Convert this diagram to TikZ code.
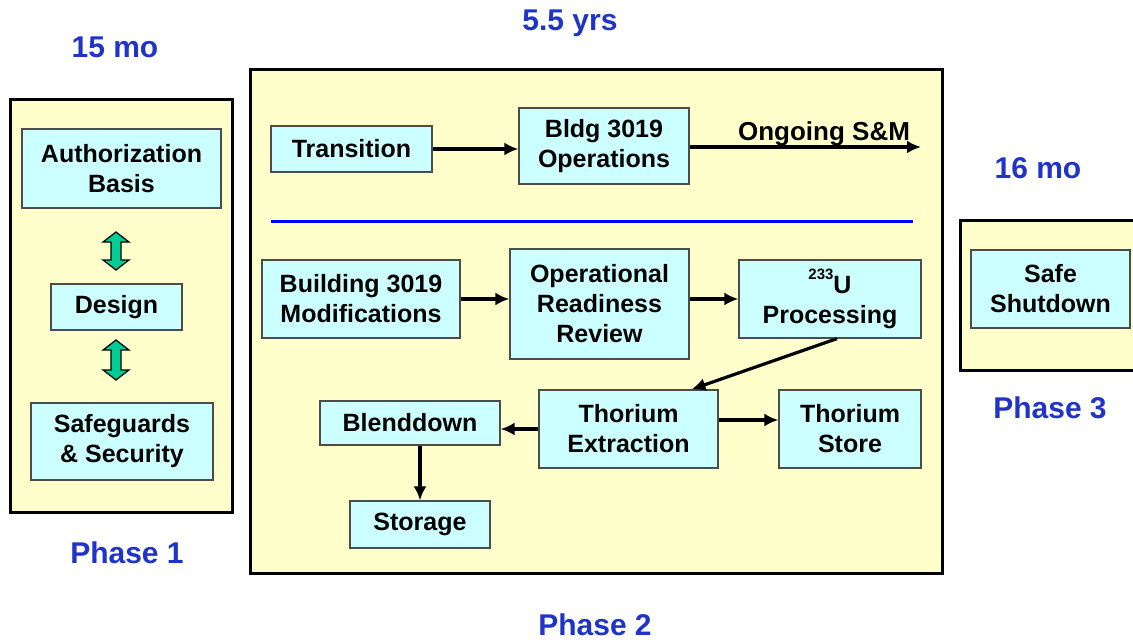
\documentclass[tikz,border=0pt]{standalone}
\usepackage{fontspec}
\setmainfont{Liberation Sans}
\usetikzlibrary{arrows.meta}
\definecolor{phasefill}{RGB}{255,255,204}
\definecolor{stepfill}{RGB}{204,255,255}
\definecolor{labelblue}{RGB}{32,52,200}
\definecolor{arrowgreen}{RGB}{0,204,150}
\tikzset{
  phasebox/.style={draw=black, line width=3pt, fill=phasefill},
  stepbox/.style={draw=black!70, line width=1.2pt, fill=stepfill, align=center,
    inner sep=0pt, font=\bfseries\fontsize{25}{30}\selectfont},
  phaselabel/.style={text=labelblue, font=\bfseries\fontsize{30}{34}\selectfont},
  flowarrow/.style={draw=black, line width=3.2pt, -{Latex[length=14pt,width=13pt]}},
  twoway/.style={draw=black, line width=1.2pt, fill=arrowgreen},
}
\newcommand{\isotope}[1]{\raisebox{0.55em}{\fontsize{15}{15}\selectfont #1}}
\begin{document}
\begin{tikzpicture}[x=1pt,y=-1pt]
\useasboundingbox (0,0) rectangle (1133,642);
\fill[white] (0,0) rectangle (1133,642);

% phase frames
\draw[phasebox] (10,99) rectangle (232,512);
\draw[phasebox] (250,70) rectangle (942,573);
\draw[phasebox] (960,220) rectangle (1150,370);

% time spans and phase names
\node[phaselabel] (t1) at (115,47) {15 mo};
\node[phaselabel] (p1) at (127,553) {Phase 1};
\node[phaselabel] (t2) at (570,23) {5.5 yrs};
\node[phaselabel] (p2) at (595,625) {Phase 2};
\node[phaselabel] (t3) at (1038,168) {16 mo};
\node[phaselabel] (p3) at (1050,408) {Phase 3};

% phase 1 steps
\node[stepbox, minimum width=199pt, minimum height=79pt] (auth) at (121.5,168.5) {Authorization\\Basis};
\node[stepbox, minimum width=131pt, minimum height=46pt] (design) at (116.5,307) {Design};
\node[stepbox, minimum width=182pt, minimum height=77pt] (safeg) at (122,441.5) {Safeguards\\\& Security};

% green two-way arrows between phase 1 steps
\foreach \ya/\yb in {232/270, 340/380}{
  \draw[twoway] (111,\ya+10) -- (103,\ya+10) -- (116,\ya) -- (129,\ya+10) -- (121,\ya+10)
    -- (121,\yb-10) -- (129,\yb-10) -- (116,\yb) -- (103,\yb-10) -- (111,\yb-10) -- cycle;
}

% phase 2 steps
\node[stepbox, minimum width=161pt, minimum height=46pt] (trans) at (351.5,149) {Transition};
\node[stepbox, minimum width=170pt, minimum height=76pt] (bldg) at (604,146) {Bldg 3019\\Operations};
\node[stepbox, minimum width=198pt, minimum height=78pt] (mods) at (361,299) {Building 3019\\Modifications};
\node[stepbox, minimum width=179pt, minimum height=110pt] (orr) at (599.5,304) {Operational\\Readiness\\Review};
\node[stepbox, minimum width=182pt, minimum height=78pt] (u233) at (830,299) {\isotope{233}U\\Processing};
\node[stepbox, minimum width=179pt, minimum height=78pt] (thext) at (628.5,429) {Thorium\\Extraction};
\node[stepbox, minimum width=142pt, minimum height=78pt] (thstore) at (850,429) {Thorium\\Store};
\node[stepbox, minimum width=180pt, minimum height=44pt] (blend) at (410,423) {Blenddown};
\node[stepbox, minimum width=140pt, minimum height=47pt] (storage) at (420,524.5) {Storage};

% phase 3 step
\node[stepbox, minimum width=159pt, minimum height=78pt] (shut) at (1050.5,289) {Safe\\Shutdown};

% upper flow
\coordinate (smend) at (921,147);
\draw[flowarrow] (trans.east) -- (trans.east -| bldg.west);
\draw[flowarrow] (bldg.east |- smend) -- (smend);
\node[font=\bfseries\fontsize{26}{30}\selectfont, anchor=base] (sm) at (824,140) {Ongoing S\&M};

% divider
\coordinate (divl) at (271,221);
\coordinate (divr) at (913,221);
\draw[blue, line width=3pt] (divl) -- (divr);

% lower flow
\draw[flowarrow] (mods.east) -- (mods.east -| orr.west);
\draw[flowarrow] (orr.east |- u233.west) -- (u233.west);
\draw[flowarrow] ([xshift=7pt]u233.south) -- ([xshift=63pt]thext.north);
\draw[flowarrow] (thext.west) -- (thext.west -| blend.east);
\draw[flowarrow] ([yshift=9pt]thext.east) -- ([yshift=9pt]thext.east -| thstore.west);
\draw[flowarrow] ([xshift=10pt]blend.south) -- ([xshift=10pt]blend.south |- storage.north);
\end{tikzpicture}
\end{document}
